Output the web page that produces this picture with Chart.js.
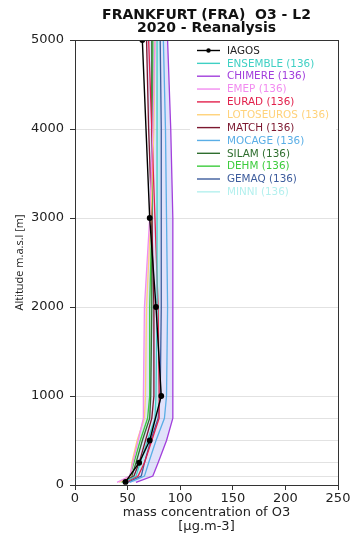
<!DOCTYPE html>
<html>
<head>
<meta charset="utf-8">
<style>html,body{margin:0;padding:0;background:#fff}canvas{display:block}</style>
<script src="https://cdn.jsdelivr.net/npm/chart.js@4.4.0/dist/chart.umd.min.js"></script>
</head>
<body>
<canvas id="c" width="353" height="533"></canvas>
<script>
// Ozone profiles over Frankfurt, 2020 reanalysis (µg/m3 by altitude in m)
const titleLines = ['FRANKFURT (FRA)  O3 - L2', '2020 - Reanalysis'];

const iagosAltitudes = [35, 250, 500, 1000, 2000, 3000, 5000];
const iagosO3 = [48, 61, 71, 82, 77, 71, 64];

const modelAltitudes = [30, 100, 250, 500, 750, 1000, 2000, 3000, 4000, 5000];
const ensembleO3   = [46, 58, 62, 69, 76, 77, 78, 78, 78, 78];
const chimereO3    = [58, 74, 79, 87, 93, 93, 93, 93, 91, 88];
const emepO3       = [40, 52, 55, 60, 65, 65, 66, 71, 74, 76];
const euradO3      = [48, 60, 66, 73, 80, 80, 79, 76, 73, 70];
const lotosO3      = [42, 53, 54, 59, 66, 67, 68, 72, 75, 76];
const matchO3      = [46, 56, 61, 67, 73, 75, 75, 73, 70, 68];
const mocageO3     = [52, 66, 70, 77, 85, 87, 88, 87, 86, 84];
const silamO3      = [45, 54, 58, 64, 71, 72, 73, 73, 73, 73];
const dehmO3       = [44, 52, 56, 62, 69, 71, 71, 73, 74, 74];
const gemaqO3      = [50, 63, 66, 72, 79, 81, 82, 82, 82, 81];
const minniO3      = [48, 60, 64, 70, 77, 79, 80, 80, 80, 80];

const xTicks = [0, 50, 100, 150, 200, 250];
const yGridLevels = [0, 100, 250, 500, 750, 1000, 2000, 3000, 4000, 5000];

const series = [
  { label: 'ENSEMBLE (136)',   values: ensembleO3, color: '#3fd0c4' },
  { label: 'CHIMERE (136)',    values: chimereO3,  color: '#a23fdc' },
  { label: 'EMEP (136)',       values: emepO3,     color: '#f28cf0' },
  { label: 'EURAD (136)',      values: euradO3,    color: '#e2214c' },
  { label: 'LOTOSEUROS (136)', values: lotosO3,    color: '#ffd27a' },
  { label: 'MATCH (136)',      values: matchO3,    color: '#7c1830' },
  { label: 'MOCAGE (136)',     values: mocageO3,   color: '#5aaee6' },
  { label: 'SILAM (136)',      values: silamO3,    color: '#2f6e2f' },
  { label: 'DEHM (136)',       values: dehmO3,     color: '#3ccc3c' },
  { label: 'GEMAQ (136)',      values: gemaqO3,    color: '#3d5c9c' },
  { label: 'MINNI (136)',      values: minniO3,    color: '#b4f0ee' }
];

const toPoints = (xs, ys) => xs.map((v, i) => ({ x: v, y: ys[i] }));

// Spread of the individual models (ensemble member excluded)
const members = series.slice(1).map(s => s.values);
const spreadLow = modelAltitudes.map((_, i) => Math.min(...members.map(m => m[i])));
const spreadHigh = modelAltitudes.map((_, i) => Math.max(...members.map(m => m[i])));

const datasets = [{
  label: 'IAGOS',
  data: toPoints(iagosO3, iagosAltitudes),
  borderColor: '#000', backgroundColor: '#000',
  borderWidth: 1.4, pointRadius: 2.2, pointHoverRadius: 2.2,
  showLine: true, tension: 0
}].concat(series.map(s => ({
  label: s.label,
  data: toPoints(s.values, modelAltitudes),
  borderColor: s.color, backgroundColor: s.color,
  borderWidth: 1.3, pointRadius: 0, showLine: true, tension: 0
})));

const spreadPlugin = {
  id: 'spread',
  beforeDatasetsDraw(chart) {
    const { ctx, scales: { x, y }, chartArea } = chart;
    ctx.save();
    ctx.beginPath();
    ctx.rect(chartArea.left, chartArea.top, chartArea.right - chartArea.left, chartArea.bottom - chartArea.top);
    ctx.clip();
    ctx.beginPath();
    modelAltitudes.forEach((a, i) => {
      const px = x.getPixelForValue(spreadLow[i]), py = y.getPixelForValue(a);
      i ? ctx.lineTo(px, py) : ctx.moveTo(px, py);
    });
    for (let i = modelAltitudes.length - 1; i >= 0; i--) {
      ctx.lineTo(x.getPixelForValue(spreadHigh[i]), y.getPixelForValue(modelAltitudes[i]));
    }
    ctx.closePath();
    ctx.fillStyle = 'rgba(135,140,235,0.25)';
    ctx.fill();
    ctx.restore();
  }
};

const legendPlugin = {
  id: 'profileLegend',
  afterDatasetsDraw(chart) {
    const { ctx } = chart;
    const x0 = 197, x1 = 220, tx = 227, top = 50.5, step = 12.85;
    ctx.save();
    ctx.fillStyle = '#fff';
    ctx.fillRect(190, 42, 146, 158);
    ctx.font = '10.4px "DejaVu Sans"';
    ctx.textBaseline = 'middle';
    ctx.textAlign = 'left';
    const entries = [{ label: 'IAGOS', color: '#000', marker: true }].concat(series.map(s => ({ label: s.label, color: s.color })));
    entries.forEach((e, i) => {
      const yy = top + i * step;
      ctx.strokeStyle = e.color;
      ctx.lineWidth = 1.4;
      ctx.beginPath(); ctx.moveTo(x0, yy); ctx.lineTo(x1, yy); ctx.stroke();
      if (e.marker) {
        ctx.fillStyle = e.color;
        ctx.beginPath(); ctx.arc((x0 + x1) / 2, yy, 2.2, 0, Math.PI * 2); ctx.fill();
      }
      ctx.fillStyle = e.color === '#000' ? '#222' : e.color;
      ctx.fillText(e.label, tx, yy + 0.5);
    });
    ctx.restore();
  },
  afterDraw(chart) {
    const { ctx, chartArea: a } = chart;
    ctx.save();
    ctx.strokeStyle = '#333';
    ctx.lineWidth = 1;
    ctx.strokeRect(Math.round(a.left) + 0.5, Math.round(a.top) + 0.5, Math.round(a.right - a.left), Math.round(a.bottom - a.top));
    ctx.fillStyle = '#111';
    ctx.font = 'bold 14px "DejaVu Sans"';
    ctx.textAlign = 'center';
    ctx.textBaseline = 'middle';
    const cx = (a.left + a.right) / 2;
    ctx.fillText(titleLines[0], cx, 15);
    ctx.fillText(titleLines[1], cx, 28.5);
    ctx.restore();
  }
};

new Chart(document.getElementById('c'), {
  type: 'scatter',
  data: { datasets },
  options: {
    responsive: false,
    animation: false,
    devicePixelRatio: 1,
    layout: { padding: { top: 40, right: 15, left: 0, bottom: 0 } },
    plugins: { legend: { display: false }, tooltip: { enabled: false }, title: { display: false } },
    scales: {
      x: {
        type: 'linear', min: 0, max: 250,
        afterBuildTicks: s => { s.ticks = xTicks.map(v => ({ value: v })); },
        afterFit: s => { s.height = 48; },
        grid: { drawOnChartArea: false, tickLength: 5, tickColor: '#333' },
        border: { color: '#333' },
        ticks: { color: '#222', font: { family: 'DejaVu Sans', size: 13 }, padding: 1, maxRotation: 0 },
        title: {
          display: true, text: ['mass concentration of O3', '[\u00b5g.m-3]'],
          color: '#222', font: { family: 'DejaVu Sans', size: 13, lineHeight: 1.05 }, padding: { top: 0, bottom: 0 }
        }
      },
      y: {
        type: 'linear', min: 0, max: 5000,
        afterBuildTicks: s => { s.ticks = yGridLevels.map(v => ({ value: v })); },
        afterFit: s => { s.width = 75; },
        grid: {
          color: '#e2e2e2', lineWidth: 1, tickLength: 5,
          tickColor: c => (c.tick && c.tick.value % 1000 === 0) ? '#333' : 'rgba(0,0,0,0)'
        },
        border: { color: '#333' },
        ticks: {
          color: '#222', font: { family: 'DejaVu Sans', size: 13 }, padding: 6, autoSkip: false,
          callback: v => (v % 1000 === 0 ? String(v) : '')
        },
        title: {
          display: true, text: 'Altitude m.a.s.l [m]',
          color: '#222', font: { family: 'Open Sans', size: 11, lineHeight: 1.2 }, padding: { top: 13, bottom: 0 }
        }
      }
    }
  },
  plugins: [spreadPlugin, legendPlugin]
});
</script>
</body>
</html>
